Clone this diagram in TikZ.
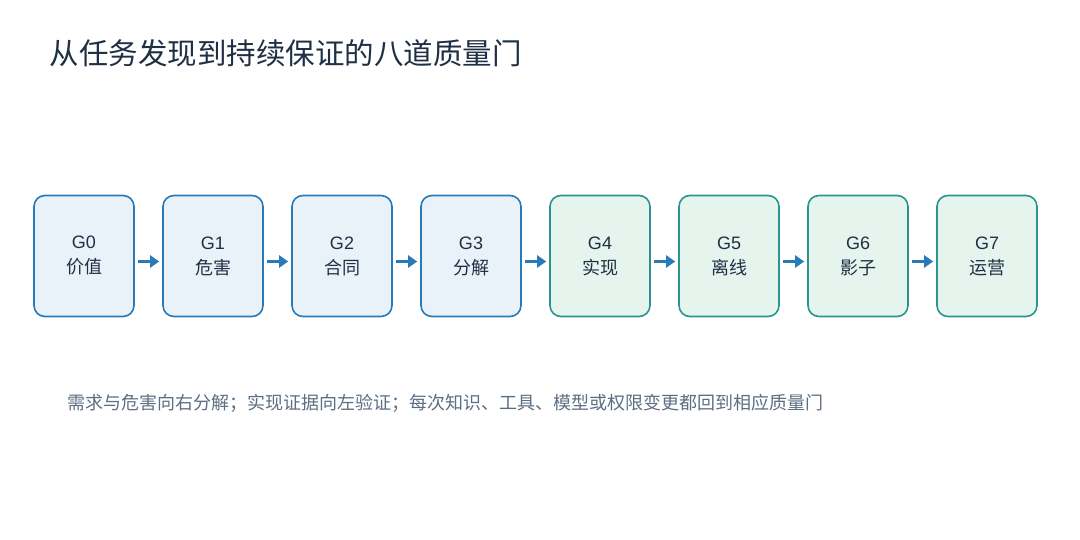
\documentclass[tikz,border=0pt]{standalone}
\usepackage{fontspec}
\setmainfont{Noto Sans CJK SC}
\newfontfamily\latinfont{Liberation Sans}
\usetikzlibrary{arrows.meta}
\definecolor{bluedraw}{HTML}{2A7AB8}
\definecolor{bluefill}{HTML}{EAF2F9}
\definecolor{tealdraw}{HTML}{2A9490}
\definecolor{tealfill}{HTML}{E6F4EE}
\definecolor{titlecol}{HTML}{1F2F44}
\definecolor{notecol}{HTML}{5B6E82}
\begin{document}
\begin{tikzpicture}[x=1pt,y=-1pt,
  gate/.style={rounded corners=11pt, line width=1.6pt, minimum width=100pt,
    minimum height=121pt, align=center, font=\fontsize{18}{25}\selectfont, text=titlecol},
  bgate/.style={gate, draw=bluedraw, fill=bluefill},
  tgate/.style={gate, draw=tealdraw, fill=tealfill},
  flow/.style={-{Triangle[length=9pt,width=12pt]}, line width=3pt, draw=bluedraw}]
\useasboundingbox (0,0) rectangle (1080,540);
\node[anchor=west, text=titlecol, font=\fontsize{29.5}{34}\selectfont] (title) at (46,53) {从任务发现到持续保证的八道质量门};
\foreach \i/\lbl/\sty in {0/价值/bgate,1/危害/bgate,2/合同/bgate,3/分解/bgate,4/实现/tgate,5/离线/tgate,6/影子/tgate,7/运营/tgate}
  \node[\sty] (g\i) at (84+129*\i,256) {{\latinfont G\i}\\\lbl};
\foreach \i [evaluate=\i as \j using int(\i+1)] in {0,...,6}
  \draw[flow] ([xshift=3pt,yshift=-5.5pt]g\i.east) -- ([xshift=-3pt,yshift=-5.5pt]g\j.west);
\node[anchor=west, text=notecol, font=\fontsize{18}{22}\selectfont] (note) at (64,403) {需求与危害向右分解；实现证据向左验证；每次知识、工具、模型或权限变更都回到相应质量门};
\end{tikzpicture}
\end{document}
